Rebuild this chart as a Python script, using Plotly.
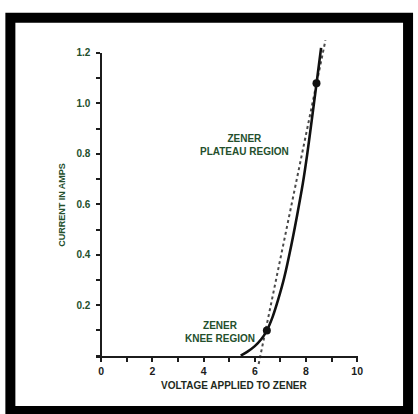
import plotly.graph_objects as go

# ---- data ----
voltage = [5.45, 5.7, 6.0, 6.25, 6.47, 6.7, 6.92, 7.15, 7.43, 7.65, 7.88, 8.05, 8.22, 8.40, 8.59]
current = [0.0, 0.015, 0.038, 0.065, 0.10, 0.155, 0.225, 0.31, 0.44, 0.555, 0.685, 0.80, 0.93, 1.07, 1.22]

tangent_v = [6.15, 8.76]
tangent_i = [-0.033, 1.25]

dot_v = [6.47, 8.41]
dot_i = [0.10, 1.08]

x_tick_vals = [0, 2, 4, 6, 8, 10]
x_tick_text = ["0", "2", "4", "6", "8", "10"]
y_tick_vals = [0.2, 0.4, 0.6, 0.8, 1.0, 1.2]
y_tick_text = ["0.2", "0.4", "0.6", "0.8", "1.0", "1.2"]

W, H = 418, 414
GREEN = "#244f2c"
INK = "#1c1c1c"
FONT = "Liberation Sans"


def fx(px):
    return px / W


def fy(py):
    return 1 - py / H


# pixel calibration
x0_px, x10_px = 102.5, 361.5
xs = (x10_px - x0_px) / 10.0
y0_px, y12_px = 355.0, 48.5
ys = (y0_px - y12_px) / 1.2

x_range = [-0.2, 10.03]
x_dom = [fx(x0_px + x_range[0] * xs), fx(x0_px + x_range[1] * xs)]
y2_dom = [fy(y0_px), fy(y12_px)]
yh_range = [-0.06, 1.26]
yh_dom = [fy(y0_px - yh_range[0] * ys), fy(y0_px - yh_range[1] * ys)]

fig = go.Figure()

fig.add_trace(go.Scatter(
    x=tangent_v, y=tangent_i, mode="lines",
    line=dict(color="#4a4a4a", width=2, dash="dot"),
    xaxis="x", yaxis="y", showlegend=False, hoverinfo="skip"))

fig.add_trace(go.Scatter(
    x=voltage, y=current, mode="lines",
    line=dict(color="#111111", width=2.6, shape="spline", smoothing=0.8),
    xaxis="x", yaxis="y", showlegend=False))

fig.add_trace(go.Scatter(
    x=dot_v, y=dot_i, mode="markers",
    marker=dict(color="#111111", size=8),
    xaxis="x", yaxis="y", showlegend=False))

# empty trace to build the display subplot
fig.add_trace(go.Scatter(x=[], y=[], xaxis="x", yaxis="y2", showlegend=False))


def label(text, x, y, size=10, color=GREEN, angle=0):
    return dict(text=text, xref="paper", yref="paper", x=fx(x), y=fy(y),
                xanchor="center", yanchor="middle", showarrow=False,
                textangle=angle,
                font=dict(family=FONT, size=size, color=color, weight="bold"))


fig.update_layout(
    width=W, height=H,
    margin=dict(l=0, r=0, t=0, b=0),
    paper_bgcolor="white",
    plot_bgcolor="rgba(0,0,0,0)",
    xaxis=dict(
        domain=x_dom, range=x_range, anchor="y2",
        showline=True, linecolor=INK, linewidth=1.8,
        showgrid=False, zeroline=False,
        tickmode="array", tickvals=x_tick_vals, ticktext=x_tick_text,
        ticks="outside", ticklen=4, tickwidth=1.5, tickcolor=INK,
        minor=dict(dtick=1, tick0=0, ticks="outside", ticklen=4, tickwidth=1.5,
                   tickcolor=INK, showgrid=False),
        tickfont=dict(family=FONT, size=10.5, color=INK, weight="bold"),
        ticklabelstandoff=1,
    ),
    yaxis=dict(domain=yh_dom, range=yh_range, anchor="x", visible=False,
               showgrid=False, zeroline=False),
    yaxis2=dict(
        domain=y2_dom, range=[0, 1.2], anchor="free", position=fx(x0_px),
        showline=True, linecolor=INK, linewidth=1.8,
        showgrid=False, zeroline=False,
        tickmode="array", tickvals=y_tick_vals, ticktext=y_tick_text,
        ticks="outside", ticklen=4, tickwidth=1.5, tickcolor=INK,
        minor=dict(dtick=0.1, tick0=0, ticks="outside", ticklen=4, tickwidth=1.5,
                   tickcolor=INK, showgrid=False),
        tickfont=dict(family=FONT, size=10, color=GREEN, weight="bold"),
        ticklabelstandoff=4,
    ),
    shapes=[
        dict(type="rect", xref="paper", yref="paper",
             x0=fx(10.5), x1=fx(413), y0=fy(13), y1=fy(411),
             line=dict(color="black", width=10), layer="above"),
    ],
    annotations=[
        label("VOLTAGE APPLIED TO ZENER", 237.5, 385, color="#1e2a20"),
        label("CURRENT IN AMPS", 62, 202, size=9, angle=-90),
        label("ZENER<br>PLATEAU REGION", 247.5, 141.5),
        label("ZENER<br>KNEE REGION", 222.5, 331),
    ],
)

fig.write_html(
    "out.html",
    config={"displayModeBar": False},
    post_script="document.body.style.margin='0';document.body.style.overflow='hidden';",
)
